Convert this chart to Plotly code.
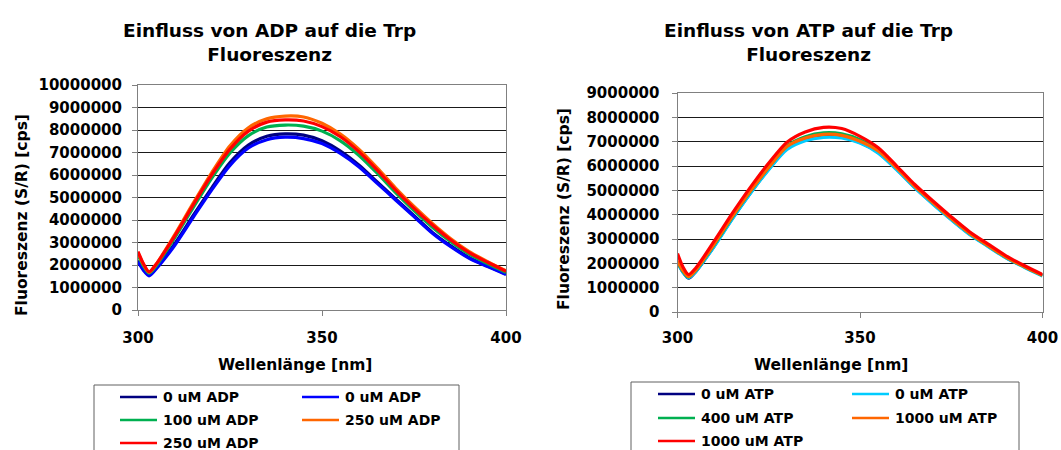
import plotly.graph_objects as go

W, H = 1061, 450

# ---------------- data (values in million cps) ----------------
wavelength = [300, 301.5, 303, 305, 310, 315, 320, 325, 330, 335, 340, 345,
              350, 355, 360, 365, 370, 375, 380, 385, 390, 395, 400]

adp_labels = ["0 uM ADP", "0 uM ADP", "100 uM ADP", "250 uM ADP", "250 uM ADP"]
adp_0a = [2.20, 1.80, 1.56, 1.88, 2.95, 4.20, 5.42, 6.55, 7.33, 7.72, 7.83, 7.77,
          7.52, 7.06, 6.44, 5.69, 4.94, 4.19, 3.45, 2.85, 2.33, 1.95, 1.60]
adp_0b = [2.15, 1.76, 1.52, 1.84, 2.88, 4.12, 5.33, 6.43, 7.20, 7.57, 7.68, 7.62,
          7.40, 6.96, 6.37, 5.63, 4.89, 4.15, 3.41, 2.81, 2.30, 1.93, 1.58]
adp_100 = [2.45, 1.95, 1.64, 1.98, 3.22, 4.55, 5.85, 6.98, 7.75, 8.13, 8.22, 8.17,
           7.95, 7.52, 6.88, 6.08, 5.22, 4.42, 3.68, 3.03, 2.48, 2.06, 1.67]
adp_250a = [2.55, 2.02, 1.68, 2.05, 3.35, 4.75, 6.10, 7.30, 8.10, 8.50, 8.62, 8.58,
            8.30, 7.82, 7.15, 6.32, 5.42, 4.60, 3.85, 3.17, 2.60, 2.15, 1.74]
adp_250b = [2.60, 2.05, 1.70, 2.05, 3.30, 4.67, 6.00, 7.15, 7.95, 8.35, 8.45, 8.40,
            8.15, 7.70, 7.04, 6.22, 5.33, 4.52, 3.78, 3.11, 2.55, 2.12, 1.72]

atp_labels = ["0 uM ATP", "0 uM ATP", "400 uM ATP", "1000 uM ATP", "1000 uM ATP"]
atp_0a = [2.04, 1.64, 1.39, 1.66, 2.70, 3.84, 4.90, 5.88, 6.72, 7.08, 7.22, 7.19,
          6.97, 6.56, 5.88, 5.12, 4.45, 3.81, 3.21, 2.72, 2.24, 1.86, 1.50]
atp_0b = [2.02, 1.63, 1.40, 1.66, 2.68, 3.82, 4.88, 5.85, 6.68, 7.04, 7.18, 7.15,
          6.94, 6.53, 5.85, 5.10, 4.43, 3.79, 3.19, 2.70, 2.22, 1.84, 1.48]
atp_400 = [2.08, 1.68, 1.44, 1.71, 2.76, 3.90, 4.97, 5.95, 6.82, 7.20, 7.36, 7.32,
           7.08, 6.66, 5.95, 5.18, 4.50, 3.85, 3.24, 2.74, 2.26, 1.87, 1.51]
atp_1000a = [2.10, 1.70, 1.45, 1.72, 2.78, 3.92, 4.98, 5.95, 6.80, 7.15, 7.30, 7.26,
             7.02, 6.62, 5.92, 5.16, 4.49, 3.84, 3.24, 2.74, 2.26, 1.87, 1.51]
atp_1000b = [2.40, 1.85, 1.54, 1.81, 2.90, 4.05, 5.13, 6.12, 6.98, 7.40, 7.59, 7.54,
             7.22, 6.75, 6.01, 5.24, 4.56, 3.91, 3.30, 2.80, 2.31, 1.91, 1.54]

x_ticks = [300, 350, 400]
adp_y_max, atp_y_max = 10000000, 9000000

# ---------------- styling ----------------
adp_colors = ["#000080", "#0000FF", "#00B050", "#FF6600", "#FF0000"]
atp_colors = ["#000080", "#00CCFF", "#00B050", "#FF6600", "#FF0000"]

def px(x):
    return x / W

def py(y):
    return 1 - y / H

fig = go.Figure()

for lab, col, ys in zip(adp_labels, adp_colors, [adp_0a, adp_0b, adp_100, adp_250a, adp_250b]):
    fig.add_trace(go.Scatter(x=wavelength, y=[v * 1e6 for v in ys], mode="lines", name=lab,
                             line=dict(color=col, width=3.2, shape="spline", smoothing=0.8),
                             xaxis="x", yaxis="y", showlegend=False))
for lab, col, ys in zip(atp_labels, atp_colors, [atp_0a, atp_0b, atp_400, atp_1000a, atp_1000b]):
    fig.add_trace(go.Scatter(x=wavelength, y=[v * 1e6 for v in ys], mode="lines", name=lab,
                             line=dict(color=col, width=3.2, shape="spline", smoothing=0.8),
                             xaxis="x2", yaxis="y2", showlegend=False))

tick_font = dict(family="DejaVu Sans", size=15, color="black", weight="bold")
axis_common = dict(showline=True, linecolor="#808080", linewidth=1, mirror=True,
                   ticks="outside", ticklen=5, tickcolor="#808080", zeroline=False,
                   tickfont=tick_font, fixedrange=True, automargin=False)

fig.update_layout(
    width=W, height=H,
    margin=dict(l=0, r=0, t=0, b=0, pad=0, autoexpand=False),
    paper_bgcolor="white", plot_bgcolor="white",
    showlegend=False,
    xaxis=dict(domain=[px(138), px(506)], anchor="y", range=[300, 400],
               tickvals=x_ticks, showgrid=False, ticklabelstandoff=9, **axis_common),
    yaxis=dict(domain=[py(310), py(85)], anchor="x", range=[0, adp_y_max], dtick=1000000,
               tickformat="d", showgrid=True, gridcolor="#1a1a1a", gridwidth=1,
               ticklabelstandoff=7, **axis_common),
    xaxis2=dict(domain=[px(677.5), px(1042.5)], anchor="y2", range=[300, 400],
                tickvals=x_ticks, showgrid=False, ticklabelstandoff=7, **axis_common),
    yaxis2=dict(domain=[py(312), py(93)], anchor="x2", range=[0, atp_y_max], dtick=1000000,
                tickformat="d", showgrid=True, gridcolor="#1a1a1a", gridwidth=1,
                ticklabelstandoff=9, **axis_common),
)

title_font = dict(family="DejaVu Sans", size=18.5, color="black", weight="bold")
axtitle_font = dict(family="DejaVu Sans", size=15.5, color="black", weight="bold")
leg_font = dict(family="DejaVu Sans", size=14, color="black", weight="bold")

ann = []
ann.append(dict(x=px(269), y=py(42), text="Einfluss von ADP auf die Trp<br>Fluoreszenz",
                font=title_font))
ann.append(dict(x=px(808), y=py(42), text="Einfluss von ATP auf die Trp<br>Fluoreszenz",
                font=title_font))
ann.append(dict(x=px(295), y=py(365), text="Wellenlänge [nm]", font=axtitle_font))
ann.append(dict(x=px(831), y=py(365), text="Wellenlänge [nm]", font=axtitle_font))
ann.append(dict(x=px(22), y=py(215), text="Fluoreszenz (S/R) [cps]", textangle=-90,
                font=axtitle_font))
ann.append(dict(x=px(564), y=py(209), text="Fluoreszenz (S/R) [cps]", textangle=-90,
                font=axtitle_font))

shapes = []
# legend boxes
shapes.append(dict(type="rect", xref="paper", yref="paper", x0=px(94), x1=px(459),
                   y0=py(470), y1=py(385), line=dict(color="#606060", width=1)))
shapes.append(dict(type="rect", xref="paper", yref="paper", x0=px(631), x1=px(1019),
                   y0=py(470), y1=py(382), line=dict(color="#606060", width=1)))

def legend_entries(labels, colors, cols_x, rows_y, line_len):
    for i, (lab, col) in enumerate(zip(labels, colors)):
        cx = cols_x[i % 2]
        ry = rows_y[i // 2]
        shapes.append(dict(type="line", xref="paper", yref="paper",
                           x0=px(cx), x1=px(cx + line_len), y0=py(ry), y1=py(ry),
                           line=dict(color=col, width=2.5)))
        ann.append(dict(x=px(cx + line_len + 4), y=py(ry), text=lab, xanchor="left",
                        font=leg_font))

legend_entries(adp_labels, adp_colors, [120, 302], [397, 420, 443], 37)
legend_entries(atp_labels, atp_colors, [658, 852], [394, 418, 441], 37)

for a in ann:
    a.setdefault("xref", "paper")
    a.setdefault("yref", "paper")
    a.setdefault("showarrow", False)
    a.setdefault("xanchor", "center")
    a.setdefault("yanchor", "middle")

fig.update_layout(annotations=ann, shapes=shapes)

fig.write_html("out.html")
